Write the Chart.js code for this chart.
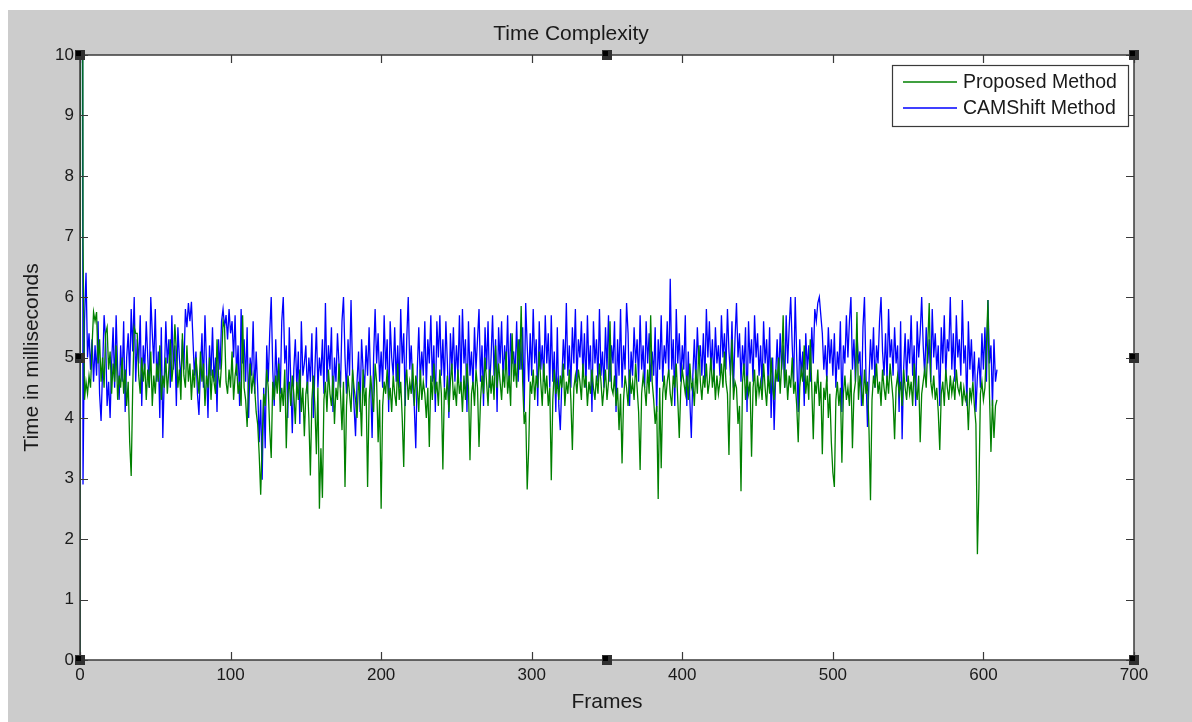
<!DOCTYPE html>
<html>
<head>
<meta charset="utf-8">
<title>Time Complexity</title>
<script src="https://cdn.jsdelivr.net/npm/chart.js@4.4.1/dist/chart.umd.min.js"></script>
<style>
  html, body { margin: 0; padding: 0; background: #ffffff; }
  #wrap { position: absolute; left: 8px; top: 10px; width: 1184px; height: 712px; background: #cccccc; }
  canvas { display: block; }
</style>
</head>
<body>
<div id="wrap"><canvas id="chart" width="1184" height="712"></canvas></div>
<script>
// Valeurs (une valeur par frame, frame 0 à 609)
const seriesNames = ["Proposed Method", "CAMShift Method"];
const xTicks = [0, 100, 200, 300, 400, 500, 600, 700];
const yTicks = [0, 1, 2, 3, 4, 5, 6, 7, 8, 9, 10];

const camshiftMs = [
  0, 30, 2.9, 5.6, 6.4, 5.0, 5.4, 4.8, 5.3, 4.6,
  5.2, 4.7, 5.6, 4.4, 3.95, 4.8, 5.7, 5.3, 4.2, 4.6,
  4.0, 4.9, 5.5, 4.5, 5.7, 4.8, 4.3, 5.2, 4.6, 5.6,
  4.1, 5.0, 5.4, 4.7, 5.8, 5.1, 6.0, 4.6, 5.3, 4.9,
  5.7, 4.2, 5.2, 4.8, 5.6, 5.0, 4.5, 6.0, 5.4, 4.9,
  5.8, 4.6, 5.1, 4.0, 5.5, 3.67, 4.7, 5.6, 4.9, 5.3,
  4.5, 5.7, 4.8, 5.2, 4.2, 5.5, 5.0, 4.6, 5.3, 4.8,
  5.8, 5.5, 5.9, 5.6, 5.92, 5.3, 4.7, 5.1, 4.4, 4.05,
  4.8, 5.4, 4.5, 5.7, 4.9, 4.0, 5.2, 4.7, 5.5, 4.6,
  5.0, 4.1, 5.3, 4.8, 5.6, 5.8, 5.5, 5.7, 5.3, 5.8,
  5.4, 5.6, 5.0, 5.7, 4.7, 5.2, 4.2, 5.8, 4.9, 5.3,
  4.6, 5.5, 4.0, 5.0, 4.7, 5.6, 4.4, 5.1, 4.5, 3.6,
  4.3, 2.98, 4.5, 3.5, 5.2, 4.6, 5.4, 6.0, 4.8, 4.2,
  5.3, 4.5, 5.0, 4.4, 5.6, 6.0, 4.9, 5.2, 4.0, 5.5,
  4.6, 3.75, 4.8, 5.3, 4.5, 5.1, 3.9, 5.6, 4.7, 4.9,
  5.2, 4.4, 5.0, 4.6, 5.4, 4.0, 4.8, 5.5, 4.5, 5.0,
  4.7, 5.3, 4.4, 5.9, 4.6, 5.2, 4.8, 5.5, 4.1, 5.0,
  4.6, 5.4, 4.9, 4.5, 5.6, 6.0, 5.0, 4.4, 5.3, 4.7,
  5.95, 4.8, 4.2, 3.7, 4.6, 5.1, 4.1, 5.3, 4.8, 4.5,
  5.2, 4.7, 5.5, 4.6, 3.67, 5.0, 5.8, 4.9, 5.4, 4.6,
  5.1, 4.5, 5.7, 4.8, 5.3, 4.1, 5.6, 5.0, 4.7, 5.5,
  4.6, 5.2, 4.5, 5.8, 4.9, 5.4, 4.2, 5.3, 6.0, 4.8,
  5.2, 4.5, 4.2, 3.5, 4.8, 5.5, 4.6, 5.1, 4.7, 5.6,
  4.5, 5.3, 4.9, 5.7, 4.6, 5.2, 4.1, 5.6, 5.0, 5.7,
  4.7, 5.3, 4.5, 5.6, 4.9, 4.0, 5.4, 4.8, 5.5, 4.6,
  5.2, 4.7, 5.7, 4.5, 5.8, 4.9, 5.3, 4.1, 5.6, 4.7,
  5.1, 4.5, 5.5, 4.8, 5.3, 5.8, 4.6, 5.2, 4.2, 5.5,
  4.8, 5.6, 4.5, 5.0, 5.7, 4.7, 5.3, 4.1, 5.5, 4.9,
  5.6, 4.6, 5.2, 4.8, 5.7, 4.5, 5.4, 4.9, 5.1, 4.7,
  5.6, 4.6, 5.3, 4.8, 5.5, 4.1, 5.9, 5.2, 4.6, 5.4,
  4.7, 5.8, 4.9, 5.3, 4.2, 5.6, 4.8, 5.2, 4.6, 5.7,
  4.9, 5.4, 4.5, 5.7, 4.6, 5.1, 4.1, 5.5, 4.2, 3.8,
  4.6, 5.3, 4.8, 5.9, 4.7, 5.2, 4.5, 5.5, 4.9, 5.8,
  4.6, 5.3, 5.0, 5.6, 4.7, 5.4, 4.5, 5.7, 4.8, 5.2,
  4.1, 5.6, 4.9, 5.3, 4.6, 5.8, 4.7, 5.1, 4.5, 5.5,
  4.8, 5.7, 4.6, 5.2, 4.9, 5.6, 4.1, 5.3, 4.7, 5.8,
  4.5, 5.2, 4.8, 5.9, 5.4, 4.2, 5.1, 4.7, 5.5, 4.9,
  5.3, 4.6, 5.7, 4.8, 5.2, 4.5, 5.6, 4.9, 5.4, 4.6,
  5.1, 4.7, 5.5, 4.1, 5.3, 4.8, 5.7, 4.6, 5.2, 4.9,
  5.6, 4.7, 6.3, 4.8, 5.3, 4.2, 5.8, 4.9, 5.4, 4.6,
  5.2, 4.8, 5.7, 4.2, 5.1, 4.3, 3.67, 4.7, 5.3, 4.6,
  5.5, 4.9, 5.2, 4.7, 5.4, 4.6, 5.8, 5.0, 5.6, 4.8,
  5.3, 4.6, 5.5, 4.9, 5.2, 4.7, 5.7, 5.0, 5.4, 4.8,
  5.8, 5.1, 4.7, 5.6, 4.5, 5.3, 5.9, 5.0, 5.4, 4.6,
  5.2, 4.8, 5.5, 4.1, 5.6, 4.9, 5.3, 4.6, 5.7, 5.0,
  5.4, 4.7, 5.2, 4.5, 5.6, 4.9, 5.3, 4.6, 5.5, 4.0,
  5.0, 3.8, 4.7, 5.3, 4.6, 5.4, 4.8, 5.2, 4.5, 5.7,
  4.9, 5.5, 6.0, 5.2, 4.6, 6.0, 5.0, 4.1, 5.3, 4.7,
  5.1, 4.2, 5.4, 4.8, 5.2, 4.6, 5.5, 4.9, 5.8, 5.6,
  5.9, 6.0, 5.7, 5.4, 4.8, 5.2, 4.6, 5.5, 4.9, 5.3,
  4.7, 5.4, 4.5, 5.1, 4.8, 5.6, 4.1, 5.2, 4.9, 5.7,
  5.0, 5.6, 6.0, 4.8, 5.3, 4.6, 5.4, 4.9, 5.1, 4.2,
  5.5, 6.0, 4.7, 3.85, 4.6, 5.3, 4.8, 5.5, 4.5, 5.2,
  4.9, 5.6, 6.0, 5.1, 4.7, 5.4, 4.6, 5.8, 5.0, 5.3,
  4.7, 5.5, 4.9, 5.2, 4.1, 5.6, 3.65, 4.8, 5.4, 4.6,
  5.3, 4.9, 5.7, 4.7, 5.2, 4.2, 5.6, 5.0, 5.4, 6.0,
  5.2, 4.7, 5.5, 4.9, 5.3, 4.6, 5.8, 5.0, 5.4, 4.8,
  5.2, 4.2, 5.5, 4.9, 5.7, 4.7, 5.3, 5.1, 6.0, 4.8,
  5.4, 4.6, 5.7, 5.0, 5.3, 4.7, 5.95, 4.9, 5.2, 4.2,
  5.6, 4.8, 5.3, 4.6, 5.1, 4.1, 4.7, 5.0, 4.5, 5.4,
  4.8, 5.5, 4.6, 5.95, 4.9, 5.2, 4.2, 5.3, 4.6, 4.8
];

const proposedMs = [
  0, 30, 6.9, 4.3, 4.6, 4.4, 4.7, 4.5, 5.2, 5.75,
  5.6, 5.75, 4.9, 5.3, 4.6, 5.0, 4.5, 5.4, 5.5, 4.8,
  5.1, 4.4, 4.9, 4.6, 5.2, 4.3, 4.7, 4.5, 5.0, 4.4,
  4.8, 4.2, 4.6, 3.6, 3.04, 4.5, 5.5, 5.4, 5.4, 4.7,
  4.4, 5.0, 4.6, 4.9, 4.3, 4.8, 4.5, 5.1, 4.2, 4.7,
  4.4, 4.9, 4.6, 5.2, 4.3, 4.7, 4.5, 5.0, 4.4, 4.8,
  5.3, 4.6, 4.9, 5.55, 5.1, 4.5, 4.8, 4.3, 5.4, 4.7,
  4.5, 5.2, 4.6, 4.9, 4.3, 4.8, 4.5, 5.0, 4.7, 4.4,
  5.1, 4.6, 4.9, 4.2, 4.7, 4.5, 5.0, 4.3, 4.8, 4.6,
  4.4, 5.3, 4.7, 4.5, 4.9, 5.6, 5.5, 4.6, 4.4, 4.8,
  4.5, 5.1, 4.3, 4.7, 4.9, 4.4, 4.6, 4.2, 5.7, 4.5,
  4.3, 3.85, 4.6, 4.9, 4.4, 4.7, 4.5, 4.1, 3.9, 3.4,
  2.73, 3.6, 4.4, 4.2, 4.8, 4.5, 3.8, 3.34, 4.6, 4.3,
  4.7, 4.4, 4.9, 4.1, 4.5, 4.2, 4.8, 3.5, 4.4, 4.6,
  4.2, 4.7, 4.4, 3.9, 4.6, 4.3, 4.8, 4.1, 4.5, 3.7,
  4.4, 4.6, 4.0, 3.05, 4.3, 4.7, 4.2, 3.4, 4.5, 2.5,
  3.5, 2.68, 4.3, 4.6, 4.1, 4.8, 4.4, 4.2, 4.7, 3.9,
  4.5, 4.3, 4.9, 4.4, 3.8, 4.6, 2.86, 4.2, 4.7, 4.4,
  4.1, 4.8, 4.5, 4.3, 4.0, 4.6, 4.4, 3.7, 4.8, 4.2,
  4.5, 2.86, 4.3, 4.7, 4.4, 4.1, 4.9, 4.6, 3.6, 4.3,
  2.5, 4.2, 4.6, 4.4, 4.8, 4.3, 4.5, 4.1, 4.7, 4.4,
  4.2, 4.9, 4.3, 4.6, 4.0, 3.19, 4.5, 4.8, 4.3, 4.6,
  4.4, 4.9, 4.2, 4.7, 4.5, 4.1, 4.8, 4.3, 4.6, 4.4,
  4.0, 4.5, 3.52, 4.7, 4.3, 4.9, 4.4, 4.6, 4.2, 4.8,
  4.4, 3.15, 4.5, 4.3, 4.7, 4.1, 4.6, 4.9, 4.3, 4.5,
  4.2, 4.8, 4.4, 4.6, 4.1, 4.7, 4.3, 4.9, 4.5, 3.3,
  4.4, 4.6, 4.2, 4.8, 4.5, 3.52, 4.3, 4.7, 4.4, 5.0,
  4.6, 4.2, 4.8, 4.4, 4.7, 4.3, 5.2, 4.5, 4.9, 4.6,
  4.3, 4.8, 4.5, 5.1, 4.4, 4.7, 4.2, 5.4, 4.6, 4.9,
  4.5, 5.3, 4.8, 5.85, 4.6, 3.9, 4.1, 2.82, 3.5, 4.6,
  4.4, 4.8, 4.3, 4.7, 4.5, 5.1, 4.6, 4.2, 4.9, 4.4,
  4.7, 4.2, 4.5, 2.97, 4.3, 4.8, 4.4, 4.6, 4.3, 4.7,
  4.5, 4.9, 4.2, 4.6, 4.4, 4.8, 4.3, 3.47, 4.5, 4.7,
  4.4, 4.8, 4.6, 4.3, 4.9, 4.5, 4.7, 4.2, 4.6, 4.4,
  4.8, 4.5, 4.3, 4.7, 4.4, 4.9, 4.6, 4.2, 4.5, 4.8,
  4.3, 4.6, 5.6, 4.5, 4.4, 4.7, 4.2, 4.5, 3.8, 4.4,
  3.25, 4.3, 4.7, 4.5, 4.2, 4.8, 4.4, 4.6, 4.3, 4.9,
  4.5, 4.1, 3.14, 4.4, 4.7, 4.5, 4.2, 4.8, 4.4, 5.7,
  4.6, 4.3, 3.9, 4.2, 2.66, 4.5, 3.17, 4.4, 4.7, 4.3,
  4.6, 4.8, 4.4, 4.2, 4.7, 4.5, 4.9, 4.3, 3.67, 4.5,
  4.8, 4.6, 4.4, 4.7, 4.3, 4.9, 4.5, 4.6, 4.2, 4.8,
  4.4, 5.2, 4.6, 4.3, 4.7, 4.5, 4.9, 4.4, 4.6, 5.0,
  4.5, 4.8, 4.3, 4.7, 4.4, 4.6, 4.9, 4.5, 5.1, 4.6,
  4.4, 3.39, 4.7, 5.3, 4.3, 4.6, 4.5, 3.9, 4.2, 2.79,
  4.6, 4.9, 4.3, 4.7, 4.4, 4.6, 3.36, 4.5, 4.8, 4.2,
  4.7, 4.4, 4.6, 4.3, 4.9, 4.5, 4.2, 4.7, 4.4, 5.0,
  4.5, 4.3, 4.8, 4.6, 5.0, 4.4, 4.9, 5.7, 4.5, 4.8,
  4.3, 4.7, 4.5, 5.0, 4.4, 4.6, 4.2, 3.6, 4.5, 4.8,
  4.6, 5.2, 4.4, 4.7, 4.3, 5.3, 4.5, 3.65, 4.6, 4.4,
  4.8, 4.2, 4.6, 3.4, 4.5, 4.3, 4.7, 4.0, 4.4, 3.6,
  3.1, 2.86, 4.3, 4.6, 4.2, 4.5, 3.26, 4.4, 4.7, 4.3,
  4.5, 4.2, 4.8, 3.5, 4.4, 4.6, 5.75, 4.3, 4.7, 4.5,
  4.2, 4.8, 4.4, 4.6, 3.8, 2.64, 4.3, 4.7, 4.5, 4.9,
  4.4, 4.6, 4.2, 4.8, 4.5, 4.3, 4.7, 4.4, 4.9, 4.6,
  4.3, 3.65, 4.5, 4.7, 4.4, 4.6, 4.2, 4.8, 4.5, 4.3,
  4.7, 4.4, 4.6, 4.2, 4.9, 4.5, 4.3, 4.7, 3.6, 4.4,
  4.6, 4.8, 4.5, 5.2, 5.9, 4.6, 4.4, 4.7, 4.3, 4.5,
  4.1, 3.47, 4.4, 4.6, 4.2, 4.8, 4.5, 4.3, 4.7, 4.4,
  4.6, 4.3, 4.8, 4.5, 4.4, 4.6, 4.2, 4.5, 4.3, 4.4,
  3.8, 4.5, 4.3, 4.6, 4.2, 3.9, 1.75, 2.84, 4.4, 4.6,
  4.3, 4.5, 5.2, 5.95, 4.4, 3.44, 4.3, 3.67, 4.2, 4.3
];

const GREEN = "#008000";
const BLUE = "#0000ff";
const AXIS = "#3a3a3a";
const TEXT = "#1a1a1a";

function toPoints(values) {
  return values.map((v, i) => ({ x: i, y: v }));
}

// Fond blanc de la zone de tracé, cadre MATLAB, ticks internes, légende et poignées
const matlabFrame = {
  id: "matlabFrame",
  beforeDatasetsDraw(chart) {
    const { ctx, chartArea: a } = chart;
    ctx.save();
    ctx.fillStyle = "#ffffff";
    ctx.fillRect(a.left, a.top, a.right - a.left, a.bottom - a.top);
    ctx.restore();
  },
  afterDraw(chart) {
    const { ctx, chartArea: a, scales } = chart;
    const tickLen = 8;
    ctx.save();
    ctx.strokeStyle = AXIS;
    ctx.lineWidth = 1.5;
    ctx.strokeRect(a.left, a.top, a.right - a.left, a.bottom - a.top);

    ctx.lineWidth = 1.2;
    ctx.beginPath();
    xTicks.forEach(t => {
      const px = Math.round(scales.x.getPixelForValue(t)) + 0.5;
      ctx.moveTo(px, a.bottom); ctx.lineTo(px, a.bottom - tickLen);
      ctx.moveTo(px, a.top); ctx.lineTo(px, a.top + tickLen);
    });
    yTicks.forEach(t => {
      const py = Math.round(scales.y.getPixelForValue(t)) + 0.5;
      ctx.moveTo(a.left, py); ctx.lineTo(a.left + tickLen, py);
      ctx.moveTo(a.right, py); ctx.lineTo(a.right - tickLen, py);
    });
    ctx.stroke();

    // légende
    const lw = 236, lh = 61;
    const lx = a.right - 6 - lw, ly = a.top + 10;
    ctx.fillStyle = "#ffffff";
    ctx.fillRect(lx, ly, lw, lh);
    ctx.strokeStyle = AXIS;
    ctx.lineWidth = 1.2;
    ctx.strokeRect(lx + 0.5, ly + 0.5, lw, lh);
    ctx.font = "19.5px 'Liberation Sans', Arial, sans-serif";
    ctx.textBaseline = "middle";
    ctx.textAlign = "left";
    chart.data.datasets.forEach((ds, i) => {
      const yy = ly + 17 + i * 26;
      ctx.strokeStyle = ds.borderColor;
      ctx.lineWidth = 1.5;
      ctx.beginPath();
      ctx.moveTo(lx + 11, yy); ctx.lineTo(lx + 65, yy);
      ctx.stroke();
      ctx.fillStyle = TEXT;
      ctx.fillText(ds.label, lx + 71, yy + 1);
    });

    // poignées de sélection
    const midX = (a.left + a.right) / 2, midY = (a.top + a.bottom) / 2;
    const handles = [
      [a.left, a.top], [midX, a.top], [a.right, a.top],
      [a.left, midY], [a.right, midY],
      [a.left, a.bottom], [midX, a.bottom], [a.right, a.bottom]
    ];
    handles.forEach(([hx, hy]) => {
      ctx.fillStyle = "#303030";
      ctx.fillRect(Math.round(hx) - 5, Math.round(hy) - 5, 10, 10);
      ctx.fillStyle = "#000000";
      ctx.fillRect(Math.round(hx) - 4, Math.round(hy) - 4, 5, 5);
    });
    ctx.restore();
  }
};

const ctx = document.getElementById("chart").getContext("2d");
new Chart(ctx, {
  type: "line",
  data: {
    datasets: [
      {
        label: seriesNames[0],
        data: toPoints(proposedMs),
        borderColor: GREEN,
        borderWidth: 1.3,
        pointRadius: 0,
        tension: 0,
        fill: false
      },
      {
        label: seriesNames[1],
        data: toPoints(camshiftMs),
        borderColor: BLUE,
        borderWidth: 1.3,
        pointRadius: 0,
        tension: 0,
        fill: false
      }
    ]
  },
  options: {
    responsive: false,
    animation: false,
    events: [],
    layout: { padding: { left: 0, right: 58, top: 0, bottom: 0 } },
    scales: {
      x: {
        type: "linear",
        min: 0,
        max: 700,
        afterFit: s => { s.height = 62; },
        afterBuildTicks: s => { s.ticks = xTicks.map(v => ({ value: v })); },
        grid: { display: false, drawTicks: false },
        border: { display: false },
        ticks: {
          padding: 5,
          color: TEXT,
          maxRotation: 0,
          font: { family: "'Liberation Sans', Arial, sans-serif", size: 17 }
        },
        title: {
          display: true,
          text: "Frames",
          color: TEXT,
          padding: { top: 0, bottom: 7 },
          font: { family: "'Liberation Sans', Arial, sans-serif", size: 21 }
        }
      },
      y: {
        min: 0,
        max: 10,
        afterFit: s => { s.width = 72; },
        afterBuildTicks: s => { s.ticks = yTicks.map(v => ({ value: v })); },
        grid: { display: false, drawTicks: false },
        border: { display: false },
        ticks: {
          padding: 6,
          color: TEXT,
          font: { family: "'Liberation Sans', Arial, sans-serif", size: 17 }
        },
        title: {
          display: true,
          text: "Time in milliseconds",
          color: TEXT,
          padding: { top: 12, bottom: 0 },
          font: { family: "'Liberation Sans', Arial, sans-serif", size: 21 }
        }
      }
    },
    plugins: {
      legend: { display: false },
      tooltip: { enabled: false },
      title: {
        display: true,
        text: "Time Complexity",
        color: TEXT,
        padding: { top: 11.4, bottom: 8.4 },
        font: { family: "'Liberation Sans', Arial, sans-serif", size: 21, weight: "normal" }
      }
    }
  },
  plugins: [matlabFrame]
});
</script>
</body>
</html>
